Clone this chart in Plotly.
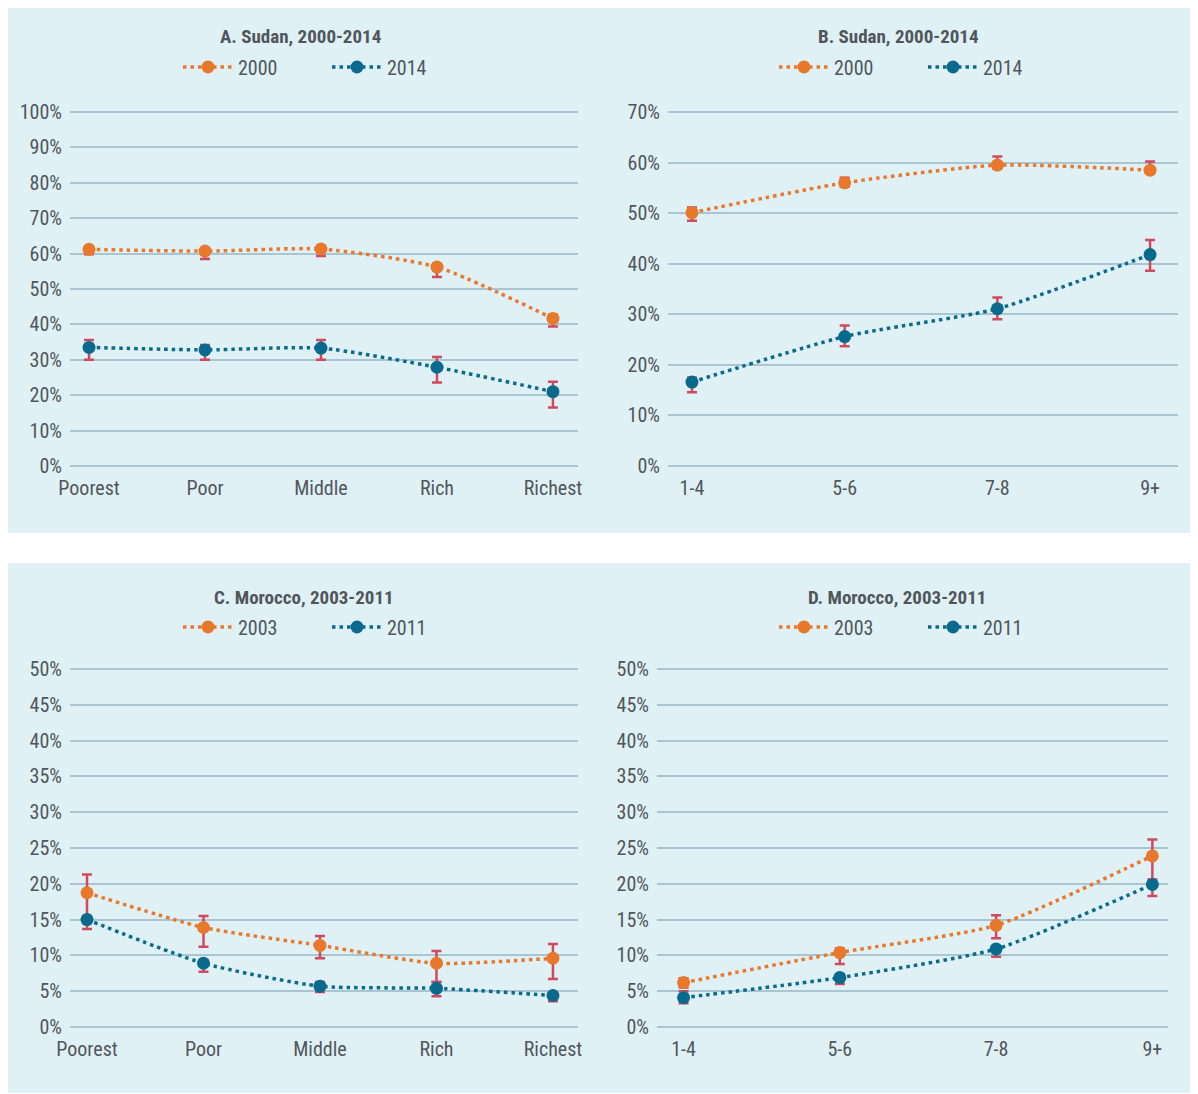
import plotly.graph_objects as go

# ---------------- data ----------------
wealth_cats = ["Poorest", "Poor", "Middle", "Rich", "Richest"]
grade_cats = ["1-4", "5-6", "7-8", "9+"]

a_2000 = [61.2, 60.7, 61.3, 56.2, 41.7]
a_2000_hi = [62.0, 61.5, 62.2, 57.1, 42.8]
a_2000_lo = [59.8, 58.5, 59.3, 53.4, 39.4]
a_2014 = [33.5, 32.8, 33.3, 27.9, 21.0]
a_2014_hi = [35.6, 34.2, 35.6, 30.8, 23.8]
a_2014_lo = [30.0, 30.0, 30.0, 23.6, 16.5]

b_2000 = [50.1, 56.0, 59.5, 58.5]
b_2000_hi = [51.1, 57.0, 61.2, 60.2]
b_2000_lo = [48.5, 55.2, 58.8, 57.8]
b_2014 = [16.6, 25.6, 31.1, 41.8]
b_2014_hi = [17.5, 27.8, 33.3, 44.7]
b_2014_lo = [14.6, 23.7, 29.0, 38.6]

c_2003 = [18.75, 13.9, 11.4, 8.9, 9.6]
c_2003_hi = [21.3, 15.5, 12.7, 10.6, 11.6]
c_2003_lo = [15.5, 11.2, 9.6, 6.3, 6.7]
c_2011 = [15.0, 8.9, 5.7, 5.4, 4.4]
c_2011_hi = [15.5, 9.4, 6.3, 6.3, 4.8]
c_2011_lo = [13.7, 7.7, 4.9, 4.3, 3.6]

d_2003 = [6.2, 10.4, 14.2, 23.9]
d_2003_hi = [6.8, 11.0, 15.6, 26.2]
d_2003_lo = [5.5, 8.8, 12.4, 20.4]
d_2011 = [4.1, 6.9, 10.9, 19.9]
d_2011_hi = [5.0, 7.4, 11.1, 20.6]
d_2011_lo = [3.3, 6.0, 9.8, 18.3]

ticks_a = list(range(0, 101, 10))
ticks_b = list(range(0, 71, 10))
ticks_cd = list(range(0, 51, 5))

titles = ["A. Sudan, 2000-2014", "B. Sudan, 2000-2014",
          "C. Morocco, 2003-2011", "D. Morocco, 2003-2011"]

# ---------------- style ----------------
OFF = 8                      # browser body margin
W, H = 1198 - OFF, 1094 - OFF
FONT = "Roboto Condensed, Liberation Sans Narrow, DejaVu Sans Condensed, Roboto, sans-serif"
ORANGE = "#e8782b"
BLUE = "#0a6a8e"
ERR = "#cf4a5e"
BG = "#e0f1f5"
GRID = "#a9c5d1"
TXT = "#50565c"
FS = 20

fig = go.Figure()


def px_x(p):
    return (p - OFF) / W


def px_y(p):
    return 1 - (p - OFF) / H


def ydom(p_bottom, p_top, vmin, vmax, pad):
    k = (p_bottom - p_top) / (vmax - vmin)
    b = p_bottom + pad * k
    t = p_top - pad * k
    return [px_y(b), px_y(t)], [vmin - pad, vmax + pad]


panels = [
    dict(cats=wealth_cats,
         series=[("2000", a_2000, a_2000_hi, a_2000_lo, ORANGE),
                 ("2014", a_2014, a_2014_hi, a_2014_lo, BLUE)],
         xpx=(70, 578), xr=[-0.164, 4.216], ypx=(466, 112), yr=(0, 100),
         ticks=ticks_a, cx=300, lx=327, ty=36, ly=67),
    dict(cats=grade_cats,
         series=[("2000", b_2000, b_2000_hi, b_2000_lo, ORANGE),
                 ("2014", b_2014, b_2014_hi, b_2014_lo, BLUE)],
         xpx=(668, 1178), xr=[-0.157, 3.183], ypx=(466, 112), yr=(0, 70),
         ticks=ticks_b, cx=898, lx=923, ty=36, ly=67),
    dict(cats=wealth_cats,
         series=[("2003", c_2003, c_2003_hi, c_2003_lo, ORANGE),
                 ("2011", c_2011, c_2011_hi, c_2011_lo, BLUE)],
         xpx=(70, 578), xr=[-0.146, 4.215], ypx=(1027, 669), yr=(0, 50),
         ticks=ticks_cd, cx=304, lx=327, ty=597, ly=627),
    dict(cats=grade_cats,
         series=[("2003", d_2003, d_2003_hi, d_2003_lo, ORANGE),
                 ("2011", d_2011, d_2011_hi, d_2011_lo, BLUE)],
         xpx=(657, 1168), xr=[-0.17, 3.10], ypx=(1027, 669), yr=(0, 50),
         ticks=ticks_cd, cx=897, lx=923, ty=597, ly=627),
]

annotations = []
for i, p in enumerate(panels):
    n = i + 1
    xa = "x" if n == 1 else f"x{n}"
    ya = "y" if n == 1 else f"y{n}"
    lg = "legend" if n == 1 else f"legend{n}"
    for name, vals, hi, lo, col in p["series"]:
        fig.add_trace(go.Scatter(
            x=p["cats"], y=vals, name=name, xaxis=xa, yaxis=ya, legend=lg,
            mode="lines+markers",
            line=dict(color=col, width=3.5, dash="3.5px,4px", shape="spline", smoothing=0.6),
            marker=dict(color=col, size=13),
            error_y=dict(type="data", symmetric=False,
                         array=[h - v for h, v in zip(hi, vals)],
                         arrayminus=[v - l for v, l in zip(vals, lo)],
                         color=ERR, thickness=2.5, width=5),
        ))
    yd, yr = ydom(p["ypx"][0], p["ypx"][1], p["yr"][0], p["yr"][1], 0.004 * (p["yr"][1] - p["yr"][0]))
    xkey = "xaxis" if n == 1 else f"xaxis{n}"
    ykey = "yaxis" if n == 1 else f"yaxis{n}"
    fig.update_layout({
        xkey: dict(domain=[px_x(p["xpx"][0]), px_x(p["xpx"][1])], range=p["xr"], anchor=ya,
                   automargin=False, type="category", showgrid=False, zeroline=False,
                   showline=False, ticks="", ticklabelstandoff=7,
                   tickfont=dict(family=FONT, size=FS, color=TXT)),
        ykey: dict(domain=yd, range=yr, anchor=xa, automargin=False,
                   tickmode="array", tickvals=p["ticks"],
                   ticktext=[f"{t}%" for t in p["ticks"]],
                   showgrid=True, gridcolor=GRID, gridwidth=1.5,
                   zeroline=False, showline=False, ticks="", ticklabelstandoff=7,
                   tickfont=dict(family=FONT, size=FS, color=TXT)),
        lg: dict(orientation="h", x=px_x(p["lx"]), y=px_y(p["ly"]),
                 xanchor="center", yanchor="middle", bgcolor="rgba(0,0,0,0)",
                 font=dict(family=FONT, size=FS, color=TXT),
                 itemwidth=50, entrywidth=84, tracegroupgap=0),
    })
    annotations.append(dict(text="<b>" + titles[i] + "</b>", x=px_x(p["cx"]), y=px_y(p["ty"]),
                            xref="paper", yref="paper", showarrow=False,
                            xanchor="center", yanchor="middle",
                            font=dict(family=FONT, size=19, color=TXT)))

shapes = [
    dict(type="rect", xref="paper", yref="paper", x0=px_x(8), x1=1, y0=px_y(533), y1=1,
         fillcolor=BG, line=dict(width=0), layer="below"),
    dict(type="rect", xref="paper", yref="paper", x0=px_x(8), x1=1, y0=px_y(1093), y1=px_y(563),
         fillcolor=BG, line=dict(width=0), layer="below"),
]

fig.update_layout(
    width=W, height=H, margin=dict(l=0, r=0, t=0, b=0, autoexpand=False),
    paper_bgcolor="white", plot_bgcolor="rgba(0,0,0,0)",
    shapes=shapes, annotations=annotations, showlegend=True,
    font=dict(family=FONT, color=TXT),
)

fig.write_html("out.html")
